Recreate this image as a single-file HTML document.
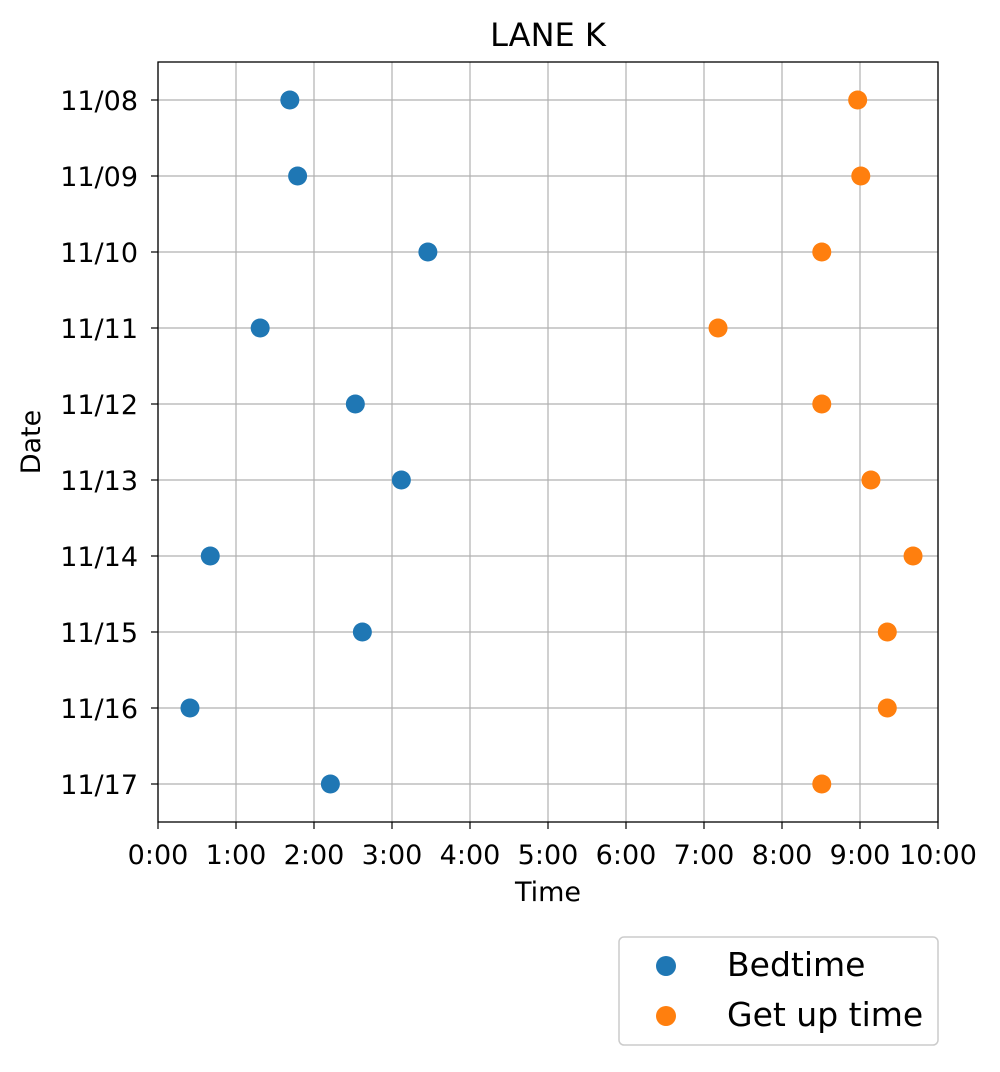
<!DOCTYPE html>
<html><head><meta charset="utf-8"><style>
body{margin:0;background:#fff;}
svg text{font-family:"DejaVu Sans","Liberation Sans",sans-serif;fill:#000;}
</style></head><body>
<svg id="chart" width="1000" height="1067" xmlns="http://www.w3.org/2000/svg">
<text x="548" y="46" font-size="32" text-anchor="middle">LANE K</text>
<g id="grid"></g>
<g id="ticks"></g>
<g id="marks"></g>
<rect x="158" y="62" width="780" height="760" fill="none" stroke="#000" stroke-width="1.3"/>
<text x="548" y="901" font-size="27" text-anchor="middle">Time</text>
<text x="40" y="442" font-size="27" text-anchor="middle" transform="rotate(-90 40 442)">Date</text>
<g>
<rect x="619" y="937" width="319" height="108" rx="5" fill="#fff" stroke="#ccc" stroke-width="1.5"/>
<circle cx="666" cy="966" r="10" fill="#1f77b4"/>
<text x="727" y="976" font-size="33">Bedtime</text>
<circle cx="666" cy="1016" r="10" fill="#ff7f0e"/>
<text x="727" y="1026" font-size="33">Get up time</text>
</g>
</svg>
<script>
const dates=["11/08","11/09","11/10","11/11","11/12","11/13","11/14","11/15","11/16","11/17"];
const bedtime=[1.69,1.79,3.46,1.31,2.53,3.12,0.67,2.62,0.41,2.21];
const getup=[8.97,9.01,8.51,7.18,8.51,9.14,9.68,9.35,9.35,8.51];
const xTicks=[0,1,2,3,4,5,6,7,8,9,10];
const xTickLabels=["0:00","1:00","2:00","3:00","4:00","5:00","6:00","7:00","8:00","9:00","10:00"];
const NS="http://www.w3.org/2000/svg";
const sx=v=>158+v*78;
const sy=i=>100+i*76;
function mk(tag,attrs,parent){const e=document.createElementNS(NS,tag);for(const k in attrs)e.setAttribute(k,attrs[k]);document.getElementById(parent).appendChild(e);return e;}
xTicks.forEach((t,i)=>{
  const g=mk('line',{x1:sx(t),x2:sx(t),y1:62,y2:822,stroke:'#b0b0b0','stroke-width':1.2},'grid');
  
  
  const tk=mk('line',{x1:sx(t),x2:sx(t),y1:822,y2:829,stroke:'#000','stroke-width':1.2},'ticks');
  
  
  const tx=mk('text',{x:sx(t),y:864,'font-size':27,'text-anchor':'middle'},'ticks');
  tx.textContent=xTickLabels[i];
  
  
});
dates.forEach((d,i)=>{
  const g=mk('line',{x1:158,x2:938,y1:sy(i),y2:sy(i),stroke:'#b0b0b0','stroke-width':1.2},'grid');
  
  
  const tk=mk('line',{x1:151,x2:158,y1:sy(i),y2:sy(i),stroke:'#000','stroke-width':1.2},'ticks');
  
  
  const tx=mk('text',{x:138,y:sy(i)+10,'font-size':27,'text-anchor':'end'},'ticks');
  tx.textContent=d;
  
  
});
bedtime.forEach((v,i)=>{
  const c=mk('circle',{cx:sx(v),cy:sy(i),r:9.5,fill:'#1f77b4'},'marks');
  
  
});
getup.forEach((v,i)=>{
  const c=mk('circle',{cx:sx(v),cy:sy(i),r:9.5,fill:'#ff7f0e'},'marks');
  
  
});
</script>
</body></html>
